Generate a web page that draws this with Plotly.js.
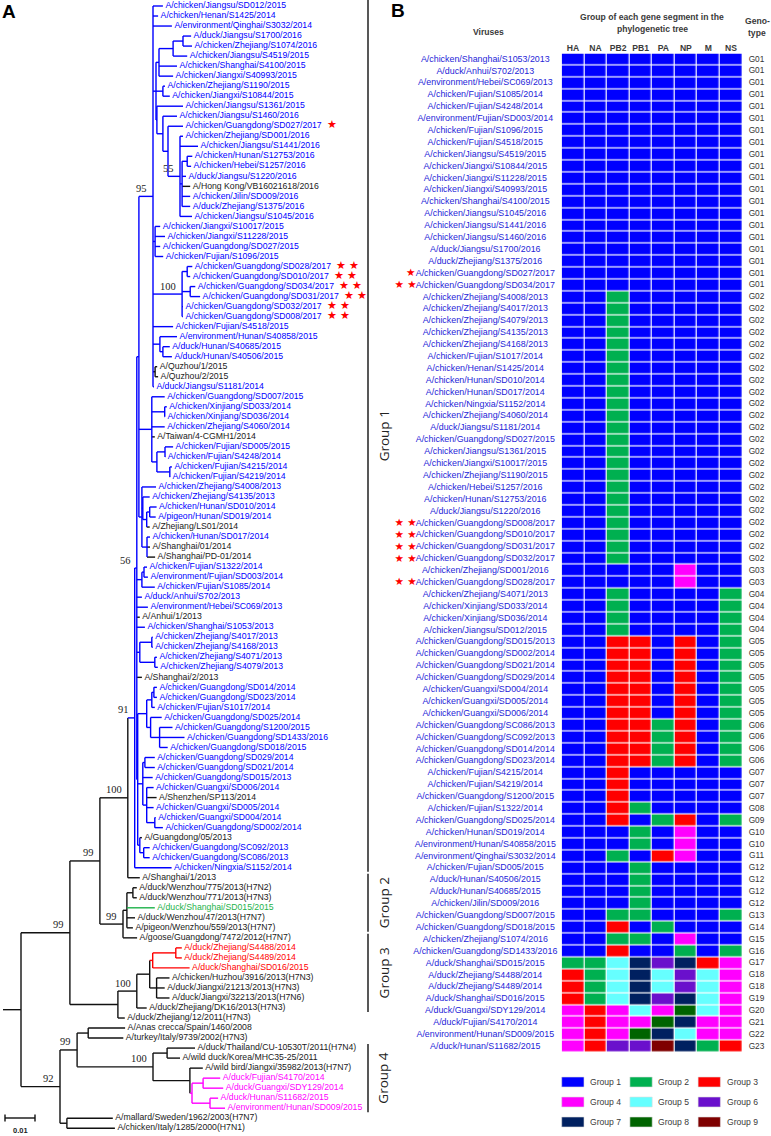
<!DOCTYPE html>
<html><head><meta charset="utf-8">
<script src="https://cdn.plot.ly/plotly-3.0.1.min.js"></script>
<style>html,body{margin:0;padding:0;background:#fff}</style>
</head><body><div id="chart" style="width:771px;height:1136px"></div>
<script>
// ---------------- DATA: panel A (tree) ----------------
const treeLeaves = [
"A/chicken/Jiangsu/SD012/2015","A/chicken/Henan/S1425/2014","A/environment/Qinghai/S3032/2014",
"A/duck/Jiangsu/S1700/2016","A/chicken/Zhejiang/S1074/2016","A/chicken/Jiangsu/S4519/2015",
"A/chicken/Shanghai/S4100/2015","A/chicken/Jiangxi/S40993/2015","A/chicken/Zhejiang/S1190/2015",
"A/chicken/Jiangxi/S10844/2015","A/chicken/Jiangsu/S1361/2015","A/chicken/Jiangsu/S1460/2016",
"A/chicken/Guangdong/SD027/2017","A/chicken/Zhejiang/SD001/2016","A/chicken/Jiangsu/S1441/2016",
"A/chicken/Hunan/S12753/2016","A/chicken/Hebei/S1257/2016","A/duck/Jiangsu/S1220/2016",
"A/Hong Kong/VB16021618/2016","A/chicken/Jilin/SD009/2016","A/duck/Zhejiang/S1375/2016",
"A/chicken/Jiangsu/S1045/2016","A/chicken/Jiangxi/S10017/2015","A/chicken/Jiangxi/S11228/2015",
"A/chicken/Guangdong/SD027/2015","A/chicken/Fujian/S1096/2015","A/chicken/Guangdong/SD028/2017",
"A/chicken/Guangdong/SD010/2017","A/chicken/Guangdong/SD034/2017","A/chicken/Guangdong/SD031/2017",
"A/chicken/Guangdong/SD032/2017","A/chicken/Guangdong/SD008/2017","A/chicken/Fujian/S4518/2015",
"A/environment/Hunan/S40858/2015","A/duck/Hunan/S40685/2015","A/duck/Hunan/S40506/2015",
"A/Quzhou/1/2015","A/Quzhou/2/2015","A/duck/Jiangsu/S1181/2014",
"A/chicken/Guangdong/SD007/2015","A/chicken/Xinjiang/SD033/2014","A/chicken/Xinjiang/SD036/2014",
"A/chicken/Zhejiang/S4060/2014","A/Taiwan/4-CGMH1/2014","A/chicken/Fujian/SD005/2015",
"A/chicken/Fujian/S4248/2014","A/chicken/Fujian/S4215/2014","A/chicken/Fujian/S4219/2014",
"A/chicken/Zhejiang/S4008/2013","A/chicken/Zhejiang/S4135/2013","A/chicken/Hunan/SD010/2014",
"A/pigeon/Hunan/SD019/2014","A/Zhejiang/LS01/2014","A/chicken/Hunan/SD017/2014",
"A/Shanghai/01/2014","A/Shanghai/PD-01/2014","A/chicken/Fujian/S1322/2014",
"A/environment/Fujian/SD003/2014","A/chicken/Fujian/S1085/2014","A/duck/Anhui/S702/2013",
"A/environment/Hebei/SC069/2013","A/Anhui/1/2013","A/chicken/Shanghai/S1053/2013",
"A/chicken/Zhejiang/S4017/2013","A/chicken/Zhejiang/S4168/2013","A/chicken/Zhejiang/S4071/2013",
"A/chicken/Zhejiang/S4079/2013","A/Shanghai/2/2013","A/chicken/Guangdong/SD014/2014",
"A/chicken/Guangdong/SD023/2014","A/chicken/Fujian/S1017/2014","A/chicken/Guangdong/SD025/2014",
"A/chicken/Guangdong/S1200/2015","A/chicken/Guangdong/SD1433/2016","A/chicken/Guangdong/SD018/2015",
"A/chicken/Guangdong/SD029/2014","A/chicken/Guangdong/SD021/2014","A/chicken/Guangdong/SD015/2013",
"A/chicken/Guangxi/SD006/2014","A/Shenzhen/SP113/2014","A/chicken/Guangxi/SD005/2014",
"A/chicken/Guangxi/SD004/2014","A/chicken/Guangdong/SD002/2014","A/Guangdong/05/2013",
"A/chicken/Guangdong/SC092/2013","A/chicken/Guangdong/SC086/2013","A/chicken/Ningxia/S1152/2014",
"A/Shanghai/1/2013","A/duck/Wenzhou/775/2013(H7N2)","A/duck/Wenzhou/771/2013(H7N3)",
"A/duck/Shanghai/SD015/2015","A/duck/Wenzhou/47/2013(H7N7)","A/pigeon/Wenzhou/559/2013(H7N7)",
"A/goose/Guangdong/7472/2012(H7N7)","A/duck/Zhejiang/S4488/2014","A/duck/Zhejiang/S4489/2014",
"A/duck/Shanghai/SD016/2015","A/chicken/Huzhou/3916/2013(H7N3)","A/duck/Jiangxi/21213/2013(H7N3)",
"A/duck/Jiangxi/32213/2013(H7N6)","A/duck/Zhejiang/DK16/2013(H7N3)","A/duck/Zhejiang/12/2011(H7N3)",
"A/Anas crecca/Spain/1460/2008","A/turkey/Italy/9739/2002(H7N3)","A/duck/Thailand/CU-10530T/2011(H7N4)",
"A/wild duck/Korea/MHC35-25/2011","A/wild bird/Jiangxi/35982/2013(H7N7)","A/duck/Fujian/S4170/2014",
"A/duck/Guangxi/SDY129/2014","A/duck/Hunan/S11682/2015","A/environment/Hunan/SD009/2015",
"A/mallard/Sweden/1962/2003(H7N7)","A/chicken/Italy/1285/2000(H7N1)"];

// Newick topology; leaves are indices into treeLeaves, branch lengths in 0.001 subst./site,
// internal labels = bootstrap, "#b/#r/#m" = coloured clade (blue/red/magenta)
const nwTopClade = "(0:3.3,1:1.7,2:6.3,((((3:2.7,4:3.0):3.3,5:4.7):4.7,6:6.0,7:4.7):1.0,(8:0.7,9:2.3):2.3,(10:8.7,(11:4.7,(12:5.0,(13:1.0,14:6.0,((15:1.7,16:1.3):1.7,17:1.3,18:2.7,19:2.7,20:2.7):0.7,21:4.0)55:4.0):1.7):2.0):0.3):1.0,(22:1.7,23:3.3,24:1.7,25:2.7):0.7,((26:1.7,27:1.0):1.7,(28:1.7,29:3.3):2.7,30:0.3,31:0.3)100:9.7,32:6.7,(33:5.7,(34:2.3,35:3.0):1.0):2.3,(36:0.7,37:1.0):0.7,38:0.3)95:4.7";
const nwMidClade = "(39:4.3,(40:0.7,41:0.1):4.3,42:4.3,43:1.0,((44:2.7,45:0.1):2.7,(46:0.7,47:0.1):4.3):1.7):4.3";
const nwZhHuClade = "(48:4.7,(49:2.3,((50:2.3,51:2.0):1.0,52:1.0):1.3):0.3,(53:1.0,54:1.0,55:2.7):1.7):1.0";
const nwGDClade = "((((68:1.0,69:1.0):0.7,70:1.0):1.7,(71:3.7,(72:4.3,73:8.3,74:2.7):3.0):1.3):3.0,((75:3.3,76:3.3):0.7,77:3.3,(78:2.3,79:3.3,80:2.3,(81:0.3,82:2.7):2.7):1.3):1.7,(83:0.7,(84:2.0,85:2.0):1.3):0.7):0.3";
const nwGroup1 = "(((" + nwTopClade + "," + nwMidClade + "," + nwZhHuClade + "):0.7,((56:1.0,57:1.3):0.7,58:4.3):1.7,59:1.7,60:3.7,61:1.0,62:2.7,((63:0.3,64:0.3):4.0,(65:0.7,66:1.0):5.0):1.0,67:1.7," + nwGDClade + ")56:0.7,86:12.3)91#b:2.3";
const nwGroup2 = "(((88:1.3,89:1.3):2.0,90:9.3,91:2.7,92:2.0):1.3,93:4.7)99:7.7";
const nwGroup3 = "(((((94:2.0,95:2.0):7.7,96:12.3)#r:1.0,(97:4.3,98:2.7,99:4.3):2.3):4.3,100:3.3)100:6.3,101:2.3):16.0";
const nwGroup4 = "(((102:12.3,103:11.7):3.7,((104:9.3,105:4.3):4.7,(106:4.3,((107:5.7,108:6.7):3.7,(109:2.7,110:5.0):6.0)#m:0.7):12.3)100:25.3)99:5.7,(111:15.3,112:16.0):2.3)92:13.0";
const treeNewick = "((((" + nwGroup1 + ",87:4.0)100:9.3," + nwGroup2 + ")99:10.0," + nwGroup3 + ")99:16.3," + nwGroup4 + "):6.0;";

const humanStrains = ["A/Hong Kong/VB16021618/2016","A/Quzhou/1/2015","A/Quzhou/2/2015","A/Taiwan/4-CGMH1/2014",
  "A/Zhejiang/LS01/2014","A/Shanghai/01/2014","A/Shanghai/PD-01/2014","A/Anhui/1/2013","A/Shanghai/2/2013",
  "A/Shenzhen/SP113/2014","A/Guangdong/05/2013"];
const greenLeaves = ["A/duck/Shanghai/SD015/2015"];
const oneStar = ["A/chicken/Guangdong/SD027/2017"];
const twoStars = ["A/chicken/Guangdong/SD028/2017","A/chicken/Guangdong/SD010/2017","A/chicken/Guangdong/SD034/2017",
  "A/chicken/Guangdong/SD031/2017","A/chicken/Guangdong/SD032/2017","A/chicken/Guangdong/SD008/2017"];
const treeGroupNames = ["Group 1","Group 2","Group 3","Group 4"];
const treeGroupFirst = ["A/chicken/Jiangsu/SD012/2015","A/Shanghai/1/2013","A/goose/Guangdong/7472/2012(H7N7)","A/duck/Thailand/CU-10530T/2011(H7N4)"];
const treeGroupLast = ["A/chicken/Ningxia/S1152/2014","A/pigeon/Wenzhou/559/2013(H7N7)","A/duck/Zhejiang/DK16/2013(H7N3)","A/environment/Hunan/SD009/2015"];
const scaleBarValue = 0.01;

// ---------------- DATA: panel B (genotypes) ----------------
const segments = ["HA","NA","PB2","PB1","PA","NP","M","NS"];
const groupColors = ["#0000ff","#00b050","#ff0000","#ff00ff","#66ffff","#6a10cc","#002060","#006400","#7f0000"];
const genotypeSegments = [
 [1,1,1,1,1,1,1,1],[1,1,2,1,1,1,1,1],[1,1,1,1,1,4,1,1],[1,1,2,1,1,1,1,2],[1,1,3,3,1,3,1,2],
 [1,1,3,3,2,3,1,2],[1,1,3,1,1,1,1,1],[1,1,3,2,1,1,1,1],[1,1,3,1,2,3,1,2],[1,1,1,2,1,4,1,1],
 [1,1,2,1,3,4,1,1],[1,1,1,2,1,1,1,1],[1,1,2,2,1,1,1,2],[1,1,3,1,2,1,1,1],[1,1,2,2,1,4,1,1],
 [1,1,3,1,1,2,1,2],[2,2,5,7,6,7,3,4],[3,2,5,7,5,6,5,4],[3,2,5,7,6,7,5,4],[4,3,4,5,4,8,5,4],
 [4,3,4,4,8,7,4,4],[4,3,4,8,7,5,4,4],[4,3,6,6,9,7,2,3]];
const viruses = [
"A/chicken/Shanghai/S1053/2013","A/duck/Anhui/S702/2013","A/environment/Hebei/SC069/2013",
"A/chicken/Fujian/S1085/2014","A/chicken/Fujian/S4248/2014","A/environment/Fujian/SD003/2014",
"A/chicken/Fujian/S1096/2015","A/chicken/Fujian/S4518/2015","A/chicken/Jiangsu/S4519/2015",
"A/chicken/Jiangxi/S10844/2015","A/chicken/Jiangxi/S11228/2015","A/chicken/Jiangxi/S40993/2015",
"A/chicken/Shanghai/S4100/2015","A/chicken/Jiangsu/S1045/2016","A/chicken/Jiangsu/S1441/2016",
"A/chicken/Jiangsu/S1460/2016","A/duck/Jiangsu/S1700/2016","A/duck/Zhejiang/S1375/2016",
"A/chicken/Guangdong/SD027/2017","A/chicken/Guangdong/SD034/2017","A/chicken/Zhejiang/S4008/2013",
"A/chicken/Zhejiang/S4017/2013","A/chicken/Zhejiang/S4079/2013","A/chicken/Zhejiang/S4135/2013",
"A/chicken/Zhejiang/S4168/2013","A/chicken/Fujian/S1017/2014","A/chicken/Henan/S1425/2014",
"A/chicken/Hunan/SD010/2014","A/chicken/Hunan/SD017/2014","A/chicken/Ningxia/S1152/2014",
"A/chicken/Zhejiang/S4060/2014","A/duck/Jiangsu/S1181/2014","A/chicken/Guangdong/SD027/2015",
"A/chicken/Jiangsu/S1361/2015","A/chicken/Jiangxi/S10017/2015","A/chicken/Zhejiang/S1190/2015",
"A/chicken/Hebei/S1257/2016","A/chicken/Hunan/S12753/2016","A/duck/Jiangsu/S1220/2016",
"A/chicken/Guangdong/SD008/2017","A/chicken/Guangdong/SD010/2017","A/chicken/Guangdong/SD031/2017",
"A/chicken/Guangdong/SD032/2017","A/chicken/Zhejiang/SD001/2016","A/chicken/Guangdong/SD028/2017",
"A/chicken/Zhejiang/S4071/2013","A/chicken/Xinjiang/SD033/2014","A/chicken/Xinjiang/SD036/2014",
"A/chicken/Jiangsu/SD012/2015","A/chicken/Guangdong/SD015/2013","A/chicken/Guangdong/SD002/2014",
"A/chicken/Guangdong/SD021/2014","A/chicken/Guangdong/SD029/2014","A/chicken/Guangxi/SD004/2014",
"A/chicken/Guangxi/SD005/2014","A/chicken/Guangxi/SD006/2014","A/chicken/Guangdong/SC086/2013",
"A/chicken/Guangdong/SC092/2013","A/chicken/Guangdong/SD014/2014","A/chicken/Guangdong/SD023/2014",
"A/chicken/Fujian/S4215/2014","A/chicken/Fujian/S4219/2014","A/chicken/Guangdong/S1200/2015",
"A/chicken/Fujian/S1322/2014","A/chicken/Guangdong/SD025/2014","A/chicken/Hunan/SD019/2014",
"A/environment/Hunan/S40858/2015","A/environment/Qinghai/S3032/2014","A/chicken/Fujian/SD005/2015",
"A/duck/Hunan/S40506/2015","A/duck/Hunan/S40685/2015","A/chicken/Jilin/SD009/2016",
"A/chicken/Guangdong/SD007/2015","A/chicken/Guangdong/SD018/2015","A/chicken/Zhejiang/S1074/2016",
"A/chicken/Guangdong/SD1433/2016","A/duck/Shanghai/SD015/2015","A/duck/Zhejiang/S4488/2014",
"A/duck/Zhejiang/S4489/2014","A/duck/Shanghai/SD016/2015","A/duck/Guangxi/SDY129/2014",
"A/duck/Fujian/S4170/2014","A/environment/Hunan/SD009/2015","A/duck/Hunan/S11682/2015"];
const rowGenotype = [
 1,1,1,1,1,1,1,1,1,1,1,1,1,1,1,1,1,1,1,1,
 2,2,2,2,2,2,2,2,2,2,2,2,2,2,2,2,2,2,2,2,2,2,2,
 3,3, 4,4,4,4, 5,5,5,5,5,5,5, 6,6,6,6, 7,7,7, 8, 9, 10,10, 11, 12,12,12,12,
 13,14,15,16,17,18,18,19,20,21,22,23];

// ---------------- BUILD ----------------
const W = 771, H = 1136;
const FONT = "Liberation Sans, Arial, sans-serif";
const BLACK = "#111111";
const cladeColors = {b: "#0000ff", r: "#ff0000", m: "#ff00ff"};
const GREEN = "#1db24a";
const UNIT = 0.001;

function parseNewick(str) {
  const s = str.replace(/\s+/g, ""); let i = 0;
  function node() {
    const n = {children: []};
    if (s[i] === "(") {
      i++; n.children.push(node());
      while (s[i] === ",") { i++; n.children.push(node()); }
      i++;
      let lab = ""; while (i < s.length && !":,);".includes(s[i])) lab += s[i++];
      n.label = lab;
    } else {
      let tok = ""; while (!":,);".includes(s[i])) tok += s[i++];
      n.leaf = parseInt(tok, 10);
    }
    n.len = 0;
    if (s[i] === ":") { i++; let b = ""; while (!",);".includes(s[i])) b += s[i++]; n.len = parseFloat(b); }
    return n;
  }
  return node();
}
const root = parseNewick(treeNewick);
function place(n, px) {
  n.x = px + n.len * UNIT;
  if (n.leaf !== undefined) { n.y = n.leaf; return; }
  n.children.forEach(c => place(c, n.x));
  n.y = (n.children[0].y + n.children[n.children.length - 1].y) / 2;
}
place(root, 0);
function colorize(n, clade) {
  const m = n.label ? n.label.match(/#(\w)/) : null;
  if (m) clade = cladeColors[m[1]];
  if (n.leaf !== undefined) {
    const nm = treeLeaves[n.leaf];
    if (greenLeaves.includes(nm)) n.color = GREEN;
    else if (clade && !humanStrains.includes(nm)) n.color = clade;
    else n.color = BLACK;
    return;
  }
  n.children.forEach(c => colorize(c, clade));
  n.color = (clade && n.children.some(c => c.color === clade)) ? clade : BLACK;
}
colorize(root, null);

const segs = {};
function addSeg(col, x0, y0, x1, y1) {
  const s = segs[col] || (segs[col] = {x: [], y: []});
  s.x.push(x0, x1, null); s.y.push(y0, y1, null);
}
const tips = [], bootstraps = [];
function walk(n, parent) {
  if (parent) addSeg(n.color, parent.x, n.y, n.x, n.y);
  else addSeg(BLACK, 0, n.y, n.x, n.y);
  if (n.leaf !== undefined) { tips.push(n); return; }
  const b = n.label ? n.label.match(/^(\d+)/) : null;
  if (b) bootstraps.push({x: n.x, y: n.y, t: b[1]});
  addSeg(n.color, n.x, n.children[0].y, n.x, n.children[n.children.length - 1].y);
  n.children.forEach(c => walk(c, n));
}
walk(root, null);

const traces = [];
Object.keys(segs).forEach(col => {
  traces.push({type: "scatter", mode: "lines", x: segs[col].x, y: segs[col].y, xaxis: "x", yaxis: "y",
    line: {color: col, width: 1.4}, hoverinfo: "skip", showlegend: false, connectgaps: false});
});
const PXU = 1 / 3000; // tree units per pixel
function starSpan(nm, size) {
  const k = twoStars.includes(nm) ? 2 : (oneStar.includes(nm) ? 1 : 0);
  if (!k) return "";
  return "\u00a0\u00a0<span style=\"color:#ff0000;font-size:" + size + "px\">" + (k === 2 ? "★\u00a0★" : "★") + "</span>";
}
traces.push({type: "scatter", mode: "text", xaxis: "x", yaxis: "y", cliponaxis: false,
  x: tips.map(t => t.x + 2.5 * PXU), y: tips.map(t => t.y),
  text: tips.map(t => treeLeaves[t.leaf] + starSpan(treeLeaves[t.leaf], 11)),
  textposition: "middle right",
  textfont: {family: FONT, size: 8.7, color: tips.map(t => t.color === BLACK ? "#1a1a1a" : t.color)},
  hoverinfo: "skip", showlegend: false});

// heatmap
const nCol = segments.length;
const cs = [];
groupColors.forEach((c, k) => { cs.push([k / groupColors.length, c]); cs.push([(k + 1) / groupColors.length, c]); });
const z = rowGenotype.map(g => genotypeSegments[g - 1].slice());
const rowIdx = viruses.map((v, i) => i);
traces.push({type: "heatmap", xaxis: "x2", yaxis: "y2", x: segments.map((s, i) => i), y: rowIdx, z: z,
  colorscale: cs, zmin: 0.5, zmax: groupColors.length + 0.5, showscale: false, xgap: 1.2, ygap: 1.2, hoverinfo: "skip"});

// panel B geometry (pixels); row texts go on a pixel-scaled overlay axis x3 sharing the row axis y2
const hmLeft = 561.7, hmRight = 742.3, hmTop = 53.5, hmBottom = 1052.6;
traces.push({type: "scatter", mode: "text", xaxis: "x3", yaxis: "y2", cliponaxis: false,
  x: viruses.map(() => 485.3), y: rowIdx, text: viruses, textposition: "middle center",
  textfont: {family: FONT, size: 8.9, color: "#2525d8"}, hoverinfo: "skip", showlegend: false});
traces.push({type: "scatter", mode: "text", xaxis: "x3", yaxis: "y2", cliponaxis: false,
  x: viruses.map(() => 756.5), y: rowIdx,
  text: rowGenotype.map(g => "G" + (g < 10 ? "0" : "") + g), textposition: "middle center",
  textfont: {family: FONT, size: 8.3, color: "#333333"}, hoverinfo: "skip", showlegend: false});
const starRows = rowIdx.filter(i => oneStar.includes(viruses[i]) || twoStars.includes(viruses[i]));
traces.push({type: "scatter", mode: "text", xaxis: "x3", yaxis: "y2", cliponaxis: false,
  x: starRows.map(i => twoStars.includes(viruses[i]) ? 405.5 : 410.7), y: starRows,
  text: starRows.map(i => twoStars.includes(viruses[i]) ? "★\u00a0★" : "★"), textposition: "middle center",
  textfont: {family: "DejaVu Sans", size: 10.5, color: "#ff0000"}, hoverinfo: "skip", showlegend: false});

// ---------------- LAYOUT ----------------
const annotations = [], shapes = [];
bootstraps.forEach(b => annotations.push({xref: "x", yref: "y", x: b.x, y: b.y, text: b.t, showarrow: false,
  xanchor: "right", yanchor: "middle", xshift: -4, yshift: 8, font: {family: "Liberation Serif, serif", size: 10.5, color: "#222"}}));
const leafIdx = nm => treeLeaves.indexOf(nm);
const barX = (368 - 3) * PXU, barTextX = (383.5 - 3) * PXU;
treeGroupNames.forEach((g, k) => {
  const y0 = leafIdx(treeGroupFirst[k]) - (k === 0 ? 0.6 : 0.4), y1 = leafIdx(treeGroupLast[k]) + 0.4;
  shapes.push({type: "line", xref: "x", yref: "y", x0: barX, x1: barX, y0: y0, y1: y1, line: {color: "#111", width: 1.4}});
  annotations.push({xref: "x", yref: "y", x: barTextX, y: (y0 + y1) / 2, text: g, textangle: -90, showarrow: false,
    font: {family: "Open Sans, sans-serif", size: 13.5, color: "#222"}});
});
// scale bar
const sbY = (1118 - 6) / 10.02, sbX0 = (5 - 3) * PXU;
shapes.push({type: "line", xref: "x", yref: "y", x0: sbX0, x1: sbX0 + scaleBarValue, y0: sbY, y1: sbY, line: {color: "#111", width: 1.4}});
[sbX0, sbX0 + scaleBarValue].forEach(x => shapes.push({type: "line", xref: "x", yref: "y", x0: x, x1: x, y0: sbY - 0.35, y1: sbY + 0.35, line: {color: "#111", width: 1.4}}));
annotations.push({xref: "x", yref: "y", x: sbX0 + scaleBarValue / 2, y: sbY + 1.2, text: "<b>" + scaleBarValue + "</b>", showarrow: false,
  font: {family: FONT, size: 7.5, color: "#222"}});

const P = (x, y) => ({x: x / W, y: 1 - y / H});
function pAnn(x, y, text, font, xanchor) {
  const p = P(x, y);
  annotations.push({xref: "paper", yref: "paper", x: p.x, y: p.y, text: text, showarrow: false,
    xanchor: xanchor || "center", yanchor: "middle", font: font});
}
const hdr = {family: FONT, size: 8.6, color: "#3a3a3a"};
pAnn(9, 11.5, "<b>A</b>", {family: FONT, size: 19, color: "#000"});
pAnn(398, 11, "<b>B</b>", {family: FONT, size: 19, color: "#000"});
pAnn(488, 32, "<b>Viruses</b>", hdr);
pAnn(652, 17, "<b>Group of each gene segment in the</b>", hdr);
pAnn(652, 29.5, "<b>phylogenetic tree</b>", hdr);
pAnn(757, 21, "<b>Geno-</b>", hdr);
pAnn(757, 33, "<b>type</b>", hdr);
// legend
groupColors.forEach((c, k) => {
  const col = k % 3, row = Math.floor(k / 3);
  const x0 = 561.7 + col * 68.2, yc = 1082 + row * 20;
  const a = P(x0, yc - 5), b = P(x0 + 22.3, yc + 5);
  shapes.push({type: "rect", xref: "paper", yref: "paper", x0: a.x, x1: b.x, y0: b.y, y1: a.y,
    fillcolor: c, line: {color: "#dddddd", width: 0.6}});
  pAnn(x0 + 26.5, yc, "Group " + (k + 1), {family: FONT, size: 8.6, color: "#3a3a3a"}, "left");
});

const layout = {
  width: W, height: H, margin: {l: 0, r: 0, t: 0, b: 0}, paper_bgcolor: "#fff", plot_bgcolor: "rgba(0,0,0,0)",
  showlegend: false, hovermode: false,
  xaxis: {domain: [0, 400 / W], range: [-3 * PXU, (400 - 3) * PXU], visible: false, fixedrange: true},
  yaxis: {domain: [0, 1], range: [-0.5988 + H / 10.02, -0.5988], visible: false, fixedrange: true},
  xaxis2: {domain: [hmLeft / W, hmRight / W], range: [-0.5, nCol - 0.5], anchor: "y2", side: "top",
    tickmode: "array", tickvals: segments.map((s, i) => i), ticktext: segments.map(s => "<b>" + s + "</b>"),
    ticks: "", showgrid: false, zeroline: false, showline: false, tickfont: {family: FONT, size: 8.6, color: "#3a3a3a"}, fixedrange: true},
  yaxis2: {domain: [1 - hmBottom / H, 1 - hmTop / H], range: [viruses.length - 0.5, -0.5], anchor: "x2", visible: false, fixedrange: true},
  xaxis3: {domain: [0, 1], range: [0, W], anchor: "y2", visible: false, fixedrange: true},
  annotations: annotations, shapes: shapes
};
Plotly.newPlot("chart", traces, layout, {displayModeBar: false, staticPlot: true});
</script></body></html>
